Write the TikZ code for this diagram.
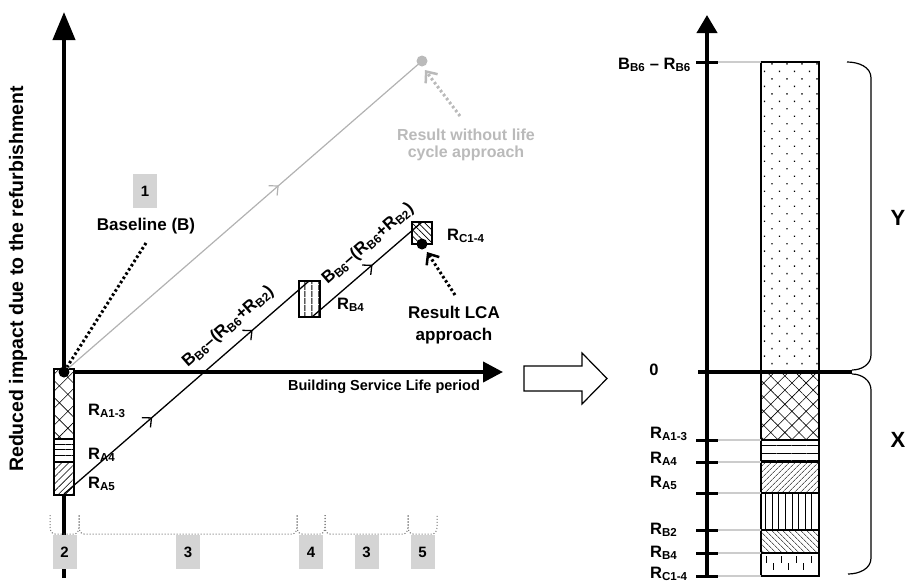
\documentclass[tikz,border=0pt]{standalone}
\usepackage{fontspec}
\setmainfont{Liberation Sans}
\usetikzlibrary{arrows.meta,patterns.meta,decorations.markings}

\tikzset{
  lbl/.style={font=\fontsize{17}{21}\selectfont\bfseries, inner sep=0pt},
  rlbl/.style={font=\fontsize{16.5}{19}\selectfont\bfseries, inner sep=0pt},
  greylbl/.style={font=\fontsize{16}{18}\selectfont\bfseries, inner sep=0pt, text=black!27, align=center},
  numbox/.style={fill=black!17, minimum width=24pt, minimum height=34pt, inner sep=0pt, font=\fontsize{15}{17}\selectfont\bfseries},
  axis/.style={line width=4pt},
  tickmark/.style={line width=3pt},
  guide/.style={black!20, line width=1.2pt},
  seg/.style={draw=black, line width=1.2pt, preaction={fill=white}, pattern={#1}},
  flow/.style={line width=1.3pt, postaction={decorate}},
  pointer/.style={line width=3pt, dash pattern=on 2.5pt off 2.5pt, -{Straight Barb[length=9pt,width=15pt,line width=2.5pt]}},
  lifebrace/.style={black!55, line width=1pt, dotted},
}

\begin{document}
\begin{tikzpicture}[x=1pt,y=-1pt]
\useasboundingbox (0,0) rectangle (906,581);

% Key points
\coordinate (O) at (64,372);
\coordinate (ytop) at (64,12);
\coordinate (ybot) at (64,578);
\coordinate (xend) at (503,372);
\coordinate (s1) at (64,494);
\coordinate (e1) at (309,281);
\coordinate (s2) at (312,317);
\coordinate (e2) at (422,222);
\coordinate (gdot) at (422,61);
\coordinate (lcadot) at (422,244);

% Axes (left)
\draw[axis,-{Triangle[length=28pt,width=22pt]}] (ybot) -- (ytop);
\draw[axis,-{Triangle[length=20pt,width=20pt]}] (O) -- (xend);
\node[font=\fontsize{14.5}{16}\selectfont\bfseries] (xlab) at (384,387) {Building Service Life period};
\node[rotate=90, font=\fontsize{19.5}{21}\selectfont\bfseries] (ylab) at (18,279) {Reduced impact due to the refurbishment};

% Stacked bar on the axis
\draw[seg={Hatch[angle=45,distance=12pt,line width=0.6pt]}] (54,369) rectangle (74,439);
\draw[seg={Lines[angle=0,distance=5.7pt,line width=1pt]}] (54,439) rectangle (74,462);
\draw[seg={Lines[angle=45,distance=5pt,line width=0.6pt]}] (54,462) rectangle (74,495);
\node[rlbl, anchor=west] (ra13) at (88,411) {R\textsubscript{A1-3}};
\node[rlbl, anchor=west] (ra4) at (88,455) {R\textsubscript{A4}};
\node[rlbl, anchor=west] (ra5) at (88,484) {R\textsubscript{A5}};

% Use stage boxes
\draw[seg={Lines[angle=90,distance=6.5pt,line width=1pt]}] (299,281) rectangle (320,317);
\draw[seg={Lines[angle=-45,distance=4.5pt,line width=0.7pt]}] (412,222) rectangle (432,244);
\node[rlbl, anchor=west] (rb4) at (337,305) {R\textsubscript{B4}};
\node[rlbl, anchor=west] (rc14) at (447,236) {R\textsubscript{C1-4}};

% Path without life cycle approach
\draw[black!30, line width=1.2pt, postaction={decorate},
  decoration={markings, mark=at position 0.6 with {\arrow{Straight Barb[length=7pt,width=13pt]}}}] (O) -- (gdot);
\fill[black!27] (gdot) circle (5.5pt);
\node[greylbl] (nolife) at (466,145) {Result without life\\[-1pt]cycle approach};
\draw[pointer, black!27] (460,116) -- (425,70);

% Path with LCA
\draw[flow, decoration={markings,
  mark=at position 0.36 with {\arrow{Straight Barb[length=7pt,width=13pt]}},
  mark=at position 0.77 with {\arrow{Straight Barb[length=7pt,width=13pt]}}}]
  (s1) -- node[lbl, sloped, above=10pt, pos=0.72] (use1) {B\textsubscript{B6}--(R\textsubscript{B6}+R\textsubscript{B2})} (e1);
\draw[flow, decoration={markings,
  mark=at position 0.55 with {\arrow{Straight Barb[length=7pt,width=13pt]}}}]
  (s2) -- node[lbl, sloped, above=10pt, pos=0.62] (use2) {B\textsubscript{B6}--(R\textsubscript{B6}+R\textsubscript{B2})} (e2);
\fill (lcadot) circle (5.5pt);
\fill (O) circle (5.5pt);
\node[lbl, align=center] (lca) at (454,325) {Result LCA\\[1pt]approach};
\draw[pointer] (455,295) -- (427,252);

% Baseline
\node[numbox] (n1) at (145,191) {1};
\node[lbl] (base) at (146,226) {Baseline (B)};
\draw[line width=3pt, dash pattern=on 2.5pt off 2.5pt] (146,243) -- (67,367);

% Life stages below the axis
\foreach \a/\b/\num in {50/79/2, 79/297/3, 297/325/4, 325/408/3, 408/437/5} {
  \draw[lifebrace] (\a,515) -- (\a,527) to[out=-90,in=180] (\a+5,534) -- (\b-5,534)
    to[out=0,in=-90] (\b,527) -- (\b,515);
  \node[numbox] (stage\a) at ({(\a+\b)/2},552) {\num};
}

% Block arrow
\draw[line width=1.2pt, fill=white] (524,366) -- (582,366) -- (582,353) -- (607,378.5)
  -- (582,404) -- (582,391) -- (524,391) -- cycle;

% Right axis
\draw[axis,-{Triangle[length=18pt,width=20pt]}] (707,576) -- (707,15);

% Right bar
\draw[seg={Dots[angle=45,distance=10.6pt,radius=1pt]}] (761,62) rectangle (819,372);
\draw[seg={Hatch[angle=45,distance=10pt,line width=0.6pt]}] (761,372) rectangle (819,440);
\draw[seg={Lines[angle=0,distance=7.5pt,line width=1pt]}] (761,440) rectangle (819,462);
\draw[seg={Lines[angle=45,distance=4pt,line width=0.6pt]}] (761,462) rectangle (819,493);
\draw[seg={Lines[angle=90,distance=6.6pt,line width=1pt]}] (761,493) rectangle (819,530);
\draw[seg={Lines[angle=-45,distance=4pt,line width=0.6pt]}] (761,530) rectangle (819,553);
\draw[line width=1.2pt, fill=white] (761,553) rectangle (819,576);
\foreach \i in {0,...,3} {
  \draw[line width=1pt] (766+15*\i,556) -- (766+15*\i,563);
}
\foreach \i in {0,...,2} {
  \draw[line width=1pt] (773+15*\i,563) -- (773+15*\i,570);
}

% Ticks, guides and labels
\draw[tickmark] (696,62) -- (718,62);
\draw[guide] (718,62) -- (761,62);
\node[rlbl, anchor=east] (top) at (691,65) {B\textsubscript{B6} -- R\textsubscript{B6}};
\foreach \yy in {440,462,493,530,553,576} {
  \draw[tickmark] (696,\yy) -- (718,\yy);
  \draw[guide] (718,\yy) -- (761,\yy);
}
\foreach \ly/\lab in {434/A1-3, 459/A4, 483/A5, 530/B2, 553/B4, 574/C1-4} {
  \node[rlbl, anchor=west] (r\lab) at (650,\ly) {R\textsubscript{\lab}};
}
\draw[axis] (698,372) -- (852,372);
\node[rlbl] (zero) at (654,370) {0};

% Brackets
\draw[line width=1.2pt] (847,62) to[out=0,in=90] (871,78) -- (871,355) to[out=-90,in=0] (852,370);
\draw[line width=1.2pt] (852,374) to[out=0,in=90] (871,390) -- (871,558) to[out=-90,in=0] (848,574);
\node[font=\fontsize{22}{24}\selectfont\bfseries] (ylbl) at (898,218) {Y};
\node[font=\fontsize{22}{24}\selectfont\bfseries] (xlbl) at (898,440) {X};

\end{tikzpicture}
\end{document}
